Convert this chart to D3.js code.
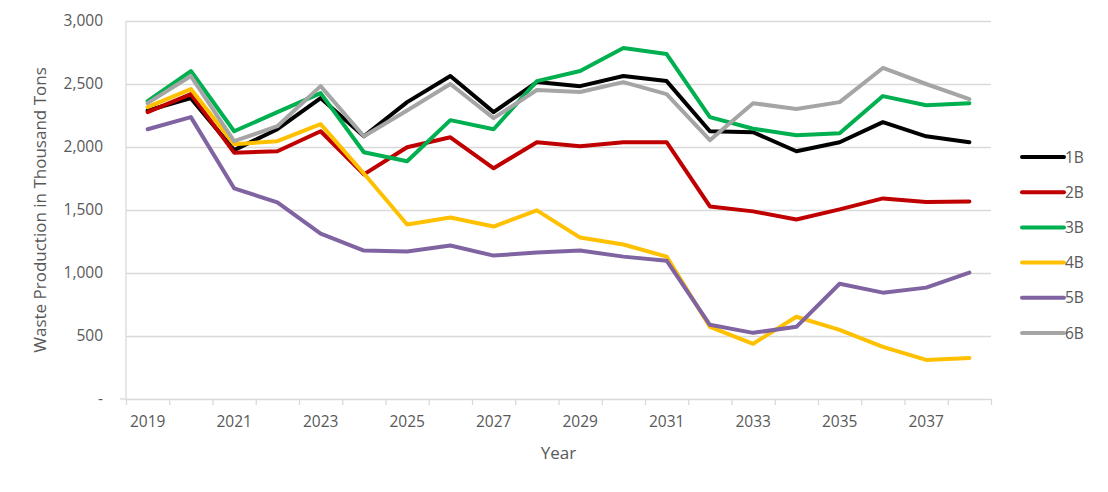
<!DOCTYPE html>
<html>
<head>
<meta charset="utf-8">
<script src="https://cdn.jsdelivr.net/npm/d3@7"></script>
<style>
  body { margin: 0; background: #fff; }
  text { font-family: "Open Sans", "Noto Sans", sans-serif; fill: #595959; }
  .axis path, .axis line { stroke: #d9d9d9; }
  .grid line { stroke: #d9d9d9; stroke-width: 1.3; }
  .grid path { display: none; }
</style>
</head>
<body>
<div id="chart"></div>
<script>
const years = d3.range(2019, 2039);
const yearLabels = [2019, 2021, 2023, 2025, 2027, 2029, 2031, 2033, 2035, 2037];
const yTicks = [0, 500, 1000, 1500, 2000, 2500, 3000];

const s1B = [2290, 2388, 1975, 2141, 2388, 2085, 2356, 2563, 2277, 2515, 2483, 2563, 2523, 2125, 2117, 1966, 2038, 2197, 2085, 2038];
const s2B = [2277, 2420, 1955, 1966, 2125, 1783, 1998, 2077, 1831, 2038, 2006, 2038, 2038, 1528, 1489, 1425, 1505, 1592, 1563, 1568];
const s3B = [2364, 2603, 2125, 2277, 2428, 1958, 1887, 2213, 2141, 2523, 2603, 2786, 2738, 2237, 2145, 2093, 2109, 2404, 2332, 2348];
const s4B = [2316, 2460, 2022, 2046, 2181, 1790, 1385, 1440, 1369, 1497, 1281, 1226, 1130, 573, 438, 653, 549, 414, 310, 326];
const s5B = [2141, 2237, 1672, 1560, 1313, 1178, 1170, 1218, 1138, 1162, 1178, 1130, 1098, 589, 525, 573, 915, 844, 884, 1003];
const s6B = [2348, 2563, 2046, 2165, 2483, 2085, 2290, 2500, 2229, 2452, 2436, 2515, 2420, 2054, 2348, 2301, 2356, 2627, 2500, 2380];

const seriesNames = ["1B", "2B", "3B", "4B", "5B", "6B"];
const seriesValues = [s1B, s2B, s3B, s4B, s5B, s6B];
const colors = ["#000000", "#C00000", "#00B050", "#FFC000", "#8064A2", "#A5A5A5"];

var margin = { top: 21, right: 117, bottom: 93, left: 126 },
  width = 1108 - margin.left - margin.right,
  height = 492 - margin.top - margin.bottom;

var svg = d3
  .select("#chart")
  .append("svg")
  .attr("width", 1108)
  .attr("height", 492)
  .append("g")
  .attr("transform", "translate(" + margin.left + "," + margin.top + ")");

var x = d3.scaleBand().domain(years).range([0, width]).padding(0);
var xEdge = d3.scaleLinear().domain([0, years.length]).range([0, width]);
var y = d3.scaleLinear().domain([0, 3000]).range([height, 0]);

// horizontal gridlines
svg
  .append("g")
  .attr("class", "grid")
  .call(d3.axisLeft(y).tickValues(yTicks.slice(1)).tickSize(-width).tickFormat(""));

// y labels
svg
  .append("g")
  .call(
    d3.axisLeft(y)
      .tickValues(yTicks)
      .tickSize(0)
      .tickPadding(23)
      .tickFormat((d) => (d === 0 ? "-" : d3.format(",")(d)))
  )
  .call((g) => g.select(".domain").remove())
  .selectAll("text")
  .style("font-size", "15.5px");

// y axis line
svg
  .append("line")
  .attr("x1", 0).attr("x2", 0)
  .attr("y1", 0).attr("y2", height)
  .attr("stroke", "#d9d9d9")
  .attr("stroke-width", 1.3);

// x axis with boundary ticks
svg
  .append("g")
  .attr("class", "axis")
  .attr("transform", `translate(0,${height})`)
  .call(d3.axisBottom(xEdge).tickValues(d3.range(years.length + 1)).tickSize(6).tickSizeOuter(0).tickFormat(""))
  .selectAll("path, line")
  .attr("stroke-width", 1.3);

svg
  .append("g")
  .attr("transform", `translate(0,${height})`)
  .call(d3.axisBottom(x).tickValues(yearLabels).tickSize(0).tickPadding(17))
  .call((g) => g.select(".domain").remove())
  .selectAll("text")
  .style("font-size", "15.5px");

// left tick at zero
svg
  .append("line")
  .attr("x1", -6).attr("x2", 0)
  .attr("y1", height).attr("y2", height)
  .attr("stroke", "#d9d9d9")
  .attr("stroke-width", 1.3);

// axis titles
svg
  .append("text")
  .attr("transform", "rotate(-90)")
  .attr("x", -height / 2)
  .attr("y", -margin.left + 46)
  .attr("text-anchor", "middle")
  .style("font-size", "17px")
  .text("Waste Production in Thousand Tons");

svg
  .append("text")
  .attr("x", width / 2)
  .attr("y", height + 60)
  .attr("text-anchor", "middle")
  .style("font-size", "17px")
  .text("Year");

// lines
var line = d3
  .line()
  .x((d, i) => x(years[i]) + x.bandwidth() / 2)
  .y((d) => y(d));

svg
  .selectAll(".series")
  .data(seriesValues)
  .enter()
  .append("path")
  .attr("class", "series")
  .attr("fill", "none")
  .attr("stroke", (d, i) => colors[i])
  .attr("stroke-width", 4)
  .attr("stroke-linejoin", "round")
  .attr("stroke-linecap", "round")
  .attr("d", line);

// legend
var legend = svg
  .selectAll(".legend")
  .data(seriesNames)
  .enter()
  .append("g")
  .attr("class", "legend")
  .attr("transform", (d, i) => `translate(${width + 31},${136 + i * 35.2})`);

legend
  .append("line")
  .attr("x1", 0).attr("x2", 42)
  .attr("stroke", (d, i) => colors[i])
  .attr("stroke-width", 4)
  .attr("stroke-linecap", "round");

legend
  .append("text")
  .attr("x", 43)
  .attr("dy", "0.36em")
  .style("font-size", "15.5px")
  .text((d) => d);
</script>
</body>
</html>
